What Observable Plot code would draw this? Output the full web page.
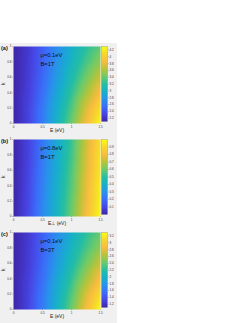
<!DOCTYPE html>
<html><head><meta charset="utf-8">
<script src="https://cdn.jsdelivr.net/npm/d3@7"></script>
<script src="https://cdn.jsdelivr.net/npm/@observablehq/plot@0.6"></script>
<style>
body{margin:0;background:#fff;font-family:"Liberation Sans",Arial,sans-serif;}
#fig{position:absolute;left:0;top:43px;width:117px;height:280px;background:#f0f0f0;}
.panel{position:absolute;left:0;}
.cb{position:absolute;left:100px;}
</style></head><body><div id="fig"></div>
<script>
// grid sample positions
const E = [0, 0.25, 0.5, 0.75, 1, 1.25, 1.5];
const K = [0, 0.2, 0.4, 0.6, 0.8, 1];
const xTicks = [0, 0.5, 1, 1.5];
const yTicks = [0, 0.2, 0.4, 0.6, 0.8, 1];

// panel (a): mu=0.1eV, B=1T  (rows: k = 0 ... 1)
const valuesA = [
  [2.10, 2.30, 2.62, 3.02, 3.42, 3.86, 4.30],
  [2.10, 2.30, 2.60, 2.97, 3.34, 3.74, 4.13],
  [2.10, 2.28, 2.55, 2.90, 3.24, 3.58, 3.90],
  [2.10, 2.26, 2.51, 2.82, 3.13, 3.43, 3.70],
  [2.10, 2.25, 2.48, 2.76, 3.04, 3.30, 3.52],
  [2.10, 2.24, 2.46, 2.72, 2.97, 3.20, 3.38]
];
const domainA = [2.1, 4.3];
const cbTicksA = [2.2, 2.4, 2.6, 2.8, 3, 3.2, 3.4, 3.6, 3.8, 4, 4.2];

// panel (b): mu=0.8eV, B=1T
const valuesB = [
  [0.00, 0.11, 0.27, 0.43, 0.60, 0.80, 1.00],
  [0.00, 0.105, 0.26, 0.42, 0.59, 0.78, 0.98],
  [0.00, 0.10, 0.25, 0.41, 0.57, 0.77, 0.97],
  [0.00, 0.095, 0.24, 0.39, 0.56, 0.75, 0.95],
  [0.00, 0.09, 0.23, 0.38, 0.54, 0.74, 0.94],
  [0.00, 0.09, 0.22, 0.37, 0.53, 0.72, 0.92]
];
const domainB = [0, 1];
const cbTicksB = [0.1, 0.2, 0.3, 0.4, 0.5, 0.6, 0.7, 0.8, 0.9];

// panel (c): mu=0.1eV, B=3T
const valuesC = [
  [1.10, 1.30, 1.62, 2.02, 2.42, 2.86, 3.30],
  [1.10, 1.30, 1.60, 1.97, 2.34, 2.74, 3.13],
  [1.10, 1.28, 1.55, 1.90, 2.24, 2.58, 2.90],
  [1.10, 1.26, 1.51, 1.82, 2.13, 2.43, 2.70],
  [1.10, 1.25, 1.48, 1.76, 2.04, 2.30, 2.53],
  [1.10, 1.24, 1.46, 1.72, 1.97, 2.21, 2.40]
];
const domainC = [1.1, 3.3];
const cbTicksC = [1.2, 1.4, 1.6, 1.8, 2, 2.2, 2.4, 2.6, 2.8, 3, 3.2];

const panels = [
  {tag: "(a)", values: valuesA, domain: domainA, cbTicks: cbTicksA, xlabel: "E (eV)", mu: "μ=0.1eV", B: "B=1T"},
  {tag: "(b)", values: valuesB, domain: domainB, cbTicks: cbTicksB, xlabel: "E⊥ (eV)", mu: "μ=0.8eV", B: "B=1T"},
  {tag: "(c)", values: valuesC, domain: domainC, cbTicks: cbTicksC, xlabel: "E (eV)", mu: "μ=0.1eV", B: "B=3T"}
];

const parulaStops = ["#3e26a8","#4745e4","#3b6efa","#2894ea","#17b0cb","#25bfa3","#6dcb6a","#b8c43a","#f9bc3f","#f6d82d","#f9fb14"];
const parula = d3.piecewise(d3.interpolateRgb, parulaStops);

const fig = document.getElementById("fig");
const font = "'Liberation Sans', Arial, sans-serif";
const fmt = d => String(d);

panels.forEach((p, idx) => {
  const data = [];
  K.forEach((k, i) => E.forEach((e, j) => data.push({E: e, k: k, v: p.values[i][j]})));
  const chart = Plot.plot({
    width: 117, height: 93,
    marginLeft: 13, marginRight: 17, marginTop: 3, marginBottom: 13,
    style: {background: "transparent", fontFamily: font, fontSize: "3px", color: "#333", overflow: "visible"},
    x: {domain: [0, 1.5]},
    y: {domain: [0, 1]},
    color: {type: "linear", domain: p.domain, interpolate: parula},
    marks: [
      Plot.raster(data, {x: "E", y: "k", fill: "v", interpolate: "barycentric", x1: 0, x2: 1.5, y1: 0, y2: 1, pixelSize: 0.5}),
      Plot.axisX({ticks: xTicks, tickFormat: fmt, tickSize: 1, tickPadding: 1, label: null, fontSize: 3, stroke: "#555", strokeWidth: 0.3}),
      Plot.axisY({ticks: yTicks, tickFormat: fmt, tickSize: 1, tickPadding: 1, label: null, fontSize: 3, stroke: "#555", strokeWidth: 0.3}),
      Plot.text([p.xlabel], {frameAnchor: "bottom", dy: 8, fontSize: 5, fill: "#222"}),
      Plot.text(["k"], {frameAnchor: "left", dx: -10, rotate: -90, fontSize: 5, fill: "#222"}),
      Plot.text([p.tag], {frameAnchor: "top-left", dx: -12.5, dy: 0, textAnchor: "start", fontSize: 5.5, fontWeight: "bold", fill: "#111"}),
      Plot.text([p.mu], {frameAnchor: "top-left", dx: 27, dy: 9, textAnchor: "start", lineAnchor: "middle", fontSize: 5.8, fill: "#111"}),
      Plot.text([p.B], {frameAnchor: "top-left", dx: 27, dy: 17.5, textAnchor: "start", lineAnchor: "middle", fontSize: 5.8, fill: "#111"})
    ]
  });
  chart.classList.add("panel");
  chart.style.top = (idx * 93) + "px";
  fig.appendChild(chart);

  const cb = Plot.plot({
    width: 17, height: 93,
    marginLeft: 1, marginRight: 10, marginTop: 3, marginBottom: 15,
    style: {background: "transparent", fontFamily: font, fontSize: "3px", color: "#333", overflow: "visible"},
    x: {domain: [0, 1], axis: null},
    y: {domain: p.domain},
    color: {type: "linear", domain: p.domain, interpolate: parula},
    marks: [
      Plot.raster({fill: (x, y) => y, x1: 0, x2: 1, y1: p.domain[0], y2: p.domain[1], pixelSize: 0.5}),
      Plot.frame({stroke: "#777", strokeWidth: 0.3}),
      Plot.axisY({anchor: "right", ticks: p.cbTicks, tickFormat: fmt, tickSize: 1, tickPadding: 1, label: null, fontSize: 3, stroke: "#555", strokeWidth: 0.3})
    ]
  });
  cb.classList.add("cb");
  cb.style.top = (idx * 93) + "px";
  fig.appendChild(cb);
});
</script></body></html>
